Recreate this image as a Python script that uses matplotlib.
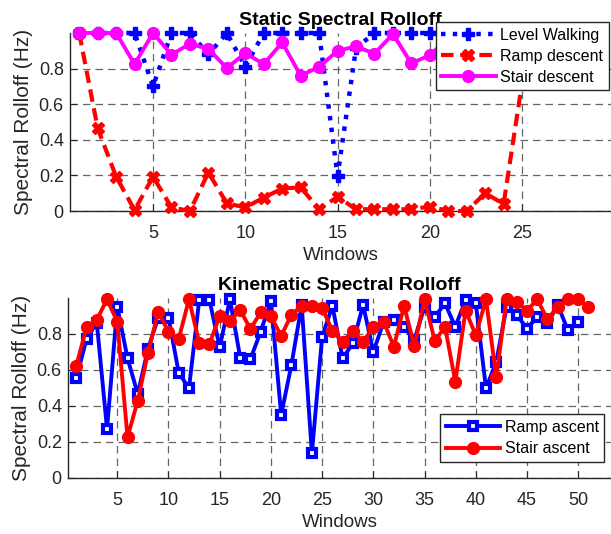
import matplotlib
matplotlib.use("Agg")
import matplotlib.pyplot as plt

plt.rcParams['font.family'] = ['Liberation Sans', 'DejaVu Sans']

# ---- data: top panel (Static Spectral Rolloff) ----
static_windows = list(range(1, 26))
level_walking = [1.0, 1.0, 1.0, 1.0, 0.70, 1.0, 1.0, 0.88, 1.0, 0.81,
                 1.0, 1.0, 1.0, 1.0, 0.197, 0.915, 1.0, 1.0, 1.0, 1.0,
                 1.0, 1.0, 1.0, 1.0, 1.0]
ramp_descent = [1.0, 0.465, 0.193, 0.005, 0.193, 0.02, 0.0, 0.216, 0.043, 0.02,
                0.075, 0.126, 0.133, 0.01, 0.08, 0.01, 0.01, 0.01, 0.01, 0.025,
                0.0, 0.0, 0.10, 0.04, 0.72]
stair_descent = [1.0, 1.0, 1.0, 0.825, 1.0, 0.878, 0.94, 0.91, 0.803, 0.887,
                 0.825, 0.947, 0.76, 0.81, 0.90, 0.925, 0.884, 0.994, 0.83, 0.875,
                 0.97, 0.95, 0.97, 0.96, 0.98]

# ---- data: bottom panel (Kinematic Spectral Rolloff) ----
ramp_ascent = [0.554, 0.772, 0.863, 0.272, 0.952, 0.665, 0.467, 0.717, 0.891, 0.891,
               0.585, 0.498, 0.989, 0.989, 0.726, 0.993, 0.669, 0.661, 0.813, 0.985,
               0.35, 0.628, 0.961, 0.137, 0.785, 0.956, 0.665, 0.748, 0.961, 0.70,
               0.868, 0.878, 0.84, 0.767, 0.952, 0.896, 0.97, 0.84, 0.989, 0.97,
               0.498, 0.646, 0.948, 0.906, 0.83, 0.896, 0.86, 0.961, 0.82, 0.868]
stair_ascent = [0.624, 0.837, 0.878, 0.993, 0.869, 0.226, 0.43, 0.696, 0.924, 0.811,
                0.772, 0.993, 0.752, 0.744, 0.902, 0.872, 0.933, 0.828, 0.92, 0.90,
                0.789, 0.907, 0.957, 0.956, 0.943, 0.819, 0.757, 0.817, 0.757, 0.84,
                0.869, 0.73, 0.956, 0.733, 0.993, 0.761, 0.84, 0.535, 0.93, 0.794,
                0.993, 0.559, 0.993, 0.98, 0.93, 0.993, 0.881, 0.952, 0.993, 0.993,
                0.952]
ramp_x = list(range(1, len(ramp_ascent) + 1))
stair_x = list(range(1, len(stair_ascent) + 1))

yticks = [0, 0.2, 0.4, 0.6, 0.8]
ytick_labels = ['0', '0.2', '0.4', '0.6', '0.8']

fig = plt.figure(figsize=(6.11, 5.34), dpi=100)
ax1 = fig.add_axes([70/611, 1-211/534, (611-70)/611, (211-33)/534])
ax2 = fig.add_axes([68/611, 1-478/534, (611-68)/611, (478-298)/534])

tick_color = '#262626'
lw = 2.8

def style(ax):
    for s in ['top', 'right']:
        ax.spines[s].set_visible(False)
    for s in ['left', 'bottom']:
        ax.spines[s].set_color('#262626')
        ax.spines[s].set_linewidth(1.0)
    ax.tick_params(direction='in', labelsize=13, colors=tick_color, length=5)
    ax.tick_params(axis='x', pad=10)
    ax.tick_params(axis='y', pad=4.5)
    ax.grid(True, linestyle=(0, (6, 4)), color='#555555', linewidth=0.9, alpha=0.9)
    ax.set_axisbelow(True)
    ax.set_yticks(yticks)
    ax.set_yticklabels(ytick_labels)
    ax.set_ylim(0, 1.0)
    ax.set_ylabel('Spectral Rolloff (Hz)', fontsize=15, color=tick_color, labelpad=4)
    ax.set_xlabel('Windows', fontsize=13.5, color=tick_color, labelpad=4)

leg_kw = dict(fontsize=11.5, fancybox=False, framealpha=1, edgecolor='#262626',
              handlelength=3.4, borderpad=0.35, labelspacing=0.38, handletextpad=0.3,
              borderaxespad=0)

# top
ax1.plot(static_windows, level_walking, color='#0000ff', linestyle=':', linewidth=lw+0.4,
         marker='P', markersize=9, clip_on=False, label='Level Walking', zorder=3)
ax1.plot(static_windows, ramp_descent, color='#ff0000', linestyle=(0, (3, 1.6)), linewidth=lw+0.2,
         marker='X', markersize=8.5, clip_on=False, label='Ramp descent', zorder=3)
ax1.plot(static_windows, stair_descent, color='#ff00ff', linestyle='-', linewidth=lw,
         marker='o', markersize=8.5, clip_on=False, label='Stair descent', zorder=3)
style(ax1)
ax1.set_xlim(0.5, 29.82)
ax1.set_xticks([5, 10, 15, 20, 25])
ax1.set_title('Static Spectral Rolloff', fontsize=14, fontweight='bold', pad=6)
leg1 = ax1.legend(loc='upper right', bbox_to_anchor=(0.9963, 1.062), **leg_kw)
leg1.get_frame().set_linewidth(1.0)
leg1.set_zorder(10)

# bottom
ax2.plot(ramp_x, ramp_ascent, color='#0000ff', linestyle='-', linewidth=lw,
         marker='s', markersize=6, markerfacecolor='white', markeredgewidth=3,
         clip_on=False, label='Ramp ascent', zorder=3)
ax2.plot(stair_x, stair_ascent, color='#ff0000', linestyle='-', linewidth=lw,
         marker='o', markersize=8.5, clip_on=False, label='Stair ascent', zorder=4)
style(ax2)
ax2.set_xlim(0.19, 53.2)
ax2.set_xticks(list(range(5, 51, 5)))
ax2.set_title('Kinematic Spectral Rolloff', fontsize=14, fontweight='bold', pad=6)
leg2 = ax2.legend(loc='lower left', bbox_to_anchor=(372/543, (478-461.7)/180), **leg_kw)
leg2.get_frame().set_linewidth(1.0)
leg2.set_zorder(10)

fig.savefig('out.png', dpi=100)
